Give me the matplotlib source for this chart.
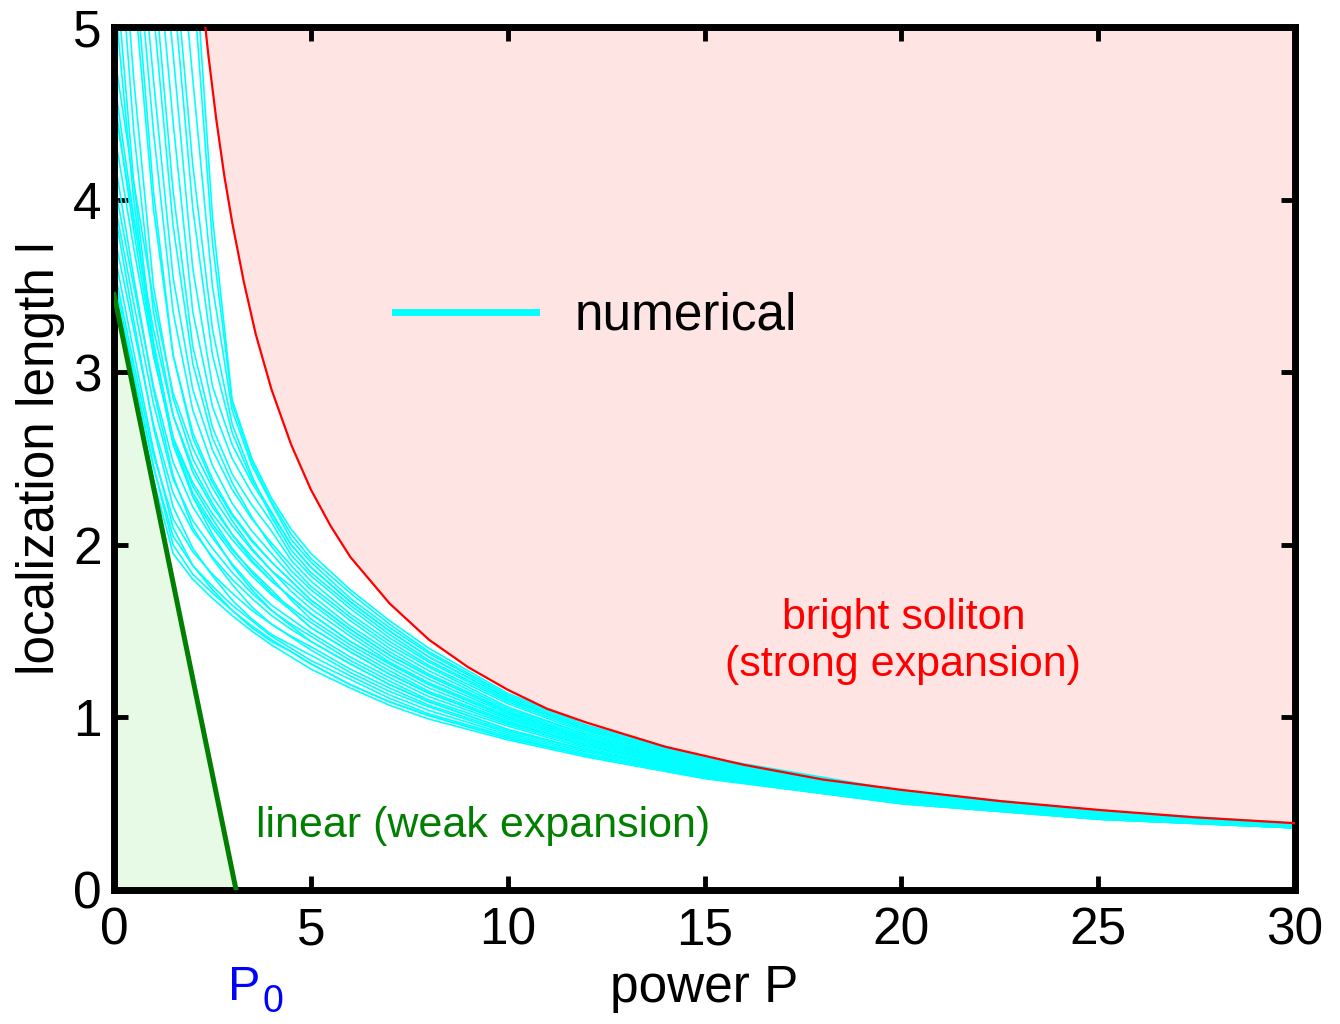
import matplotlib
matplotlib.use("Agg")
import matplotlib.pyplot as plt
from matplotlib.lines import Line2D

plt.rcParams['font.family'] = ['Liberation Sans', 'DejaVu Sans']

# red curve (bright soliton boundary)
p_red = [2.3, 2.4, 2.6, 2.8, 3.0, 3.3, 3.6, 4.0, 4.5, 5, 5.5, 6, 7, 8, 9, 10,
         11, 12, 14, 16, 18, 20, 22.5, 25, 27.5, 30]
l_red = [5.04, 4.83, 4.46, 4.14, 3.87, 3.52, 3.22, 2.90, 2.58, 2.32, 2.11, 1.93,
         1.66, 1.45, 1.29, 1.16, 1.05, 0.97, 0.83, 0.725, 0.64, 0.58, 0.515,
         0.464, 0.42, 0.387]

# green line (linear regime)
p_lin = [0, 3.1]
l_lin = [3.45, 0]

# numerical curves, all sampled on the same power grid
p_grid = [0, 0.5, 1, 1.5, 2, 2.5, 3, 3.5, 4, 4.5, 5, 6, 7, 8, 10, 12, 15, 20, 25, 30]
cyan_curves = [
    [3.45, 2.92, 2.38, 1.95, 1.80, 1.69, 1.59, 1.50, 1.42, 1.35, 1.28, 1.17, 1.07, 0.99, 0.87, 0.77, 0.645, 0.50, 0.41, 0.36],
    [3.50, 2.98, 2.45, 2.05, 1.88, 1.76, 1.65, 1.56, 1.47, 1.40, 1.33, 1.22, 1.11, 1.02, 0.89, 0.78, 0.655, 0.51, 0.41, 0.36],
    [3.55, 3.00, 2.46, 2.00, 1.83, 1.72, 1.62, 1.53, 1.45, 1.38, 1.31, 1.19, 1.09, 1.01, 0.88, 0.78, 0.65, 0.50, 0.41, 0.36],
    [3.60, 3.05, 2.52, 2.15, 1.96, 1.83, 1.72, 1.62, 1.54, 1.465, 1.39, 1.26, 1.15, 1.06, 0.91, 0.80, 0.665, 0.51, 0.42, 0.36],
    [3.70, 3.12, 2.55, 2.10, 1.88, 1.74, 1.62, 1.52, 1.44, 1.38, 1.31, 1.19, 1.09, 1.01, 0.88, 0.78, 0.65, 0.50, 0.41, 0.36],
    [3.80, 3.25, 2.70, 2.30, 2.08, 1.93, 1.80, 1.69, 1.59, 1.51, 1.44, 1.31, 1.19, 1.09, 0.93, 0.81, 0.675, 0.52, 0.42, 0.365],
    [3.95, 3.30, 2.68, 2.22, 1.98, 1.82, 1.68, 1.57, 1.48, 1.42, 1.36, 1.24, 1.13, 1.04, 0.90, 0.79, 0.66, 0.51, 0.42, 0.36],
    [4.00, 3.40, 2.82, 2.38, 2.14, 1.98, 1.84, 1.72, 1.62, 1.53, 1.44, 1.31, 1.19, 1.09, 0.93, 0.81, 0.675, 0.52, 0.42, 0.365],
    [4.10, 3.50, 2.92, 2.48, 2.22, 2.04, 1.89, 1.76, 1.65, 1.57, 1.49, 1.35, 1.23, 1.12, 0.96, 0.83, 0.685, 0.52, 0.43, 0.368],
    [4.25, 3.55, 2.90, 2.40, 2.10, 1.92, 1.77, 1.64, 1.54, 1.47, 1.41, 1.28, 1.17, 1.07, 0.92, 0.81, 0.67, 0.52, 0.42, 0.365],
    [4.40, 3.72, 3.10, 2.62, 2.34, 2.15, 1.98, 1.84, 1.72, 1.635, 1.55, 1.40, 1.27, 1.15, 0.98, 0.84, 0.695, 0.53, 0.43, 0.37],
    [4.55, 3.88, 3.25, 2.75, 2.45, 2.24, 2.06, 1.91, 1.79, 1.695, 1.60, 1.44, 1.31, 1.19, 1.00, 0.86, 0.705, 0.54, 0.43, 0.372],
    [4.60, 3.82, 3.12, 2.58, 2.28, 2.10, 1.95, 1.82, 1.71, 1.62, 1.52, 1.38, 1.25, 1.14, 0.97, 0.84, 0.69, 0.53, 0.43, 0.369],
    [4.70, 3.90, 3.18, 2.62, 2.28, 2.06, 1.88, 1.74, 1.62, 1.54, 1.47, 1.33, 1.21, 1.10, 0.95, 0.82, 0.68, 0.52, 0.42, 0.367],
    [4.85, 4.10, 3.42, 2.88, 2.56, 2.33, 2.14, 1.98, 1.85, 1.76, 1.66, 1.49, 1.34, 1.22, 1.02, 0.87, 0.715, 0.54, 0.44, 0.374],
    [5.20, 4.00, 3.10, 2.62, 2.36, 2.18, 2.03, 1.90, 1.79, 1.695, 1.60, 1.44, 1.31, 1.19, 1.00, 0.86, 0.705, 0.54, 0.43, 0.372],
    [5.45, 4.10, 3.15, 2.60, 2.30, 2.12, 1.97, 1.85, 1.74, 1.62, 1.52, 1.38, 1.25, 1.14, 0.97, 0.84, 0.69, 0.53, 0.43, 0.369],
    [5.90, 4.40, 3.35, 2.75, 2.42, 2.22, 2.06, 1.93, 1.81, 1.68, 1.57, 1.42, 1.29, 1.17, 0.99, 0.85, 0.70, 0.53, 0.43, 0.371],
    [6.20, 4.70, 3.50, 2.85, 2.50, 2.28, 2.11, 1.97, 1.85, 1.73, 1.63, 1.47, 1.32, 1.20, 1.01, 0.87, 0.71, 0.54, 0.44, 0.373],
    [6.60, 5.25, 3.95, 3.10, 2.65, 2.38, 2.18, 2.03, 1.90, 1.79, 1.68, 1.51, 1.36, 1.24, 1.03, 0.88, 0.72, 0.545, 0.44, 0.375],
    [6.90, 5.45, 4.05, 3.10, 2.62, 2.36, 2.17, 2.02, 1.90, 1.79, 1.68, 1.51, 1.36, 1.24, 1.03, 0.88, 0.72, 0.545, 0.44, 0.375],
    [7.00, 5.70, 4.40, 3.35, 2.78, 2.46, 2.24, 2.08, 1.95, 1.82, 1.71, 1.53, 1.38, 1.25, 1.04, 0.89, 0.725, 0.55, 0.44, 0.376],
    [7.20, 5.95, 4.70, 3.55, 2.90, 2.55, 2.32, 2.15, 2.01, 1.88, 1.76, 1.58, 1.42, 1.29, 1.06, 0.90, 0.735, 0.555, 0.45, 0.378],
    [7.40, 6.30, 5.10, 3.85, 3.05, 2.62, 2.36, 2.16, 1.99, 1.85, 1.74, 1.56, 1.40, 1.27, 1.05, 0.90, 0.73, 0.55, 0.44, 0.377],
    [7.60, 6.50, 5.35, 4.05, 3.15, 2.68, 2.41, 2.23, 2.08, 1.91, 1.79, 1.60, 1.44, 1.30, 1.08, 0.91, 0.74, 0.555, 0.45, 0.379],
    [7.80, 6.80, 5.70, 4.45, 3.35, 2.80, 2.50, 2.30, 2.13, 1.94, 1.82, 1.63, 1.46, 1.32, 1.09, 0.92, 0.745, 0.56, 0.45, 0.38],
    [8.00, 7.05, 6.00, 4.85, 3.60, 2.92, 2.58, 2.36, 2.18, 2.00, 1.87, 1.67, 1.50, 1.35, 1.11, 0.93, 0.755, 0.566, 0.454, 0.382],
    [8.20, 7.30, 6.30, 5.25, 3.95, 3.10, 2.65, 2.38, 2.19, 2.00, 1.87, 1.67, 1.50, 1.35, 1.11, 0.93, 0.755, 0.566, 0.454, 0.382],
    [8.30, 7.45, 6.50, 5.50, 4.20, 3.25, 2.70, 2.40, 2.16, 1.97, 1.84, 1.65, 1.48, 1.33, 1.10, 0.93, 0.75, 0.563, 0.45, 0.381],
    [8.60, 7.80, 6.90, 5.95, 4.70, 3.50, 2.78, 2.46, 2.24, 2.03, 1.90, 1.69, 1.52, 1.37, 1.12, 0.94, 0.76, 0.569, 0.456, 0.383],
    [8.80, 8.10, 7.25, 6.30, 5.30, 3.75, 2.82, 2.48, 2.25, 2.06, 1.92, 1.72, 1.54, 1.38, 1.13, 0.95, 0.765, 0.572, 0.458, 0.384],
    [9.00, 8.30, 7.50, 6.60, 5.60, 3.90, 2.84, 2.50, 2.27, 2.09, 1.95, 1.74, 1.56, 1.40, 1.14, 0.955, 0.77, 0.575, 0.46, 0.385],
]

fs = 37
fs_note = 31

fig = plt.figure(figsize=(13.4, 10.24), dpi=100)
ax = fig.add_axes([0.0851, 0.1309, 0.8813, 0.8427])

ax.fill_between(p_red, l_red, 5, color='#ffe4e4', lw=0, zorder=0)
ax.fill_between(p_lin, l_lin, 0, color='#e6fae6', lw=0, zorder=0)

for c in cyan_curves:
    ax.plot(p_grid, c, color='cyan', lw=1.2, zorder=2)

ax.plot(p_red, l_red, color='red', lw=1.6, zorder=3)
ax.plot(p_lin, l_lin, color='#007f00', lw=3.6, zorder=4)

ax.set_xlim(0, 30)
ax.set_ylim(0, 5)
ax.set_xticks([0, 5, 10, 15, 20, 25, 30])
ax.set_yticks([0, 1, 2, 3, 4, 5])
ax.tick_params(direction='in', length=10, width=3.5, labelsize=fs,
               top=True, right=True)
ax.tick_params(axis='x', pad=12)
ax.tick_params(axis='y', pad=9)
for s in ax.spines.values():
    s.set_linewidth(5)

ax.set_xlabel('power P', fontsize=fs, labelpad=6)
ax.set_ylabel('localization length l', fontsize=fs, labelpad=6)

ax.text(20.05, 1.44, 'bright soliton\n(strong expansion)', color='red',
        fontsize=fs_note, ha='center', va='center', linespacing=1.2)
ax.text(9.37, 0.37, 'linear (weak expansion)', color='#007f00',
        fontsize=fs_note, ha='center', va='center')

xt = ax.get_xaxis_transform()
ax.text(2.9, -0.1275, 'P', color='blue', fontsize=35, ha='left',
        va='baseline', transform=xt)
ax.text(3.76, -0.1414, '0', color='blue', fontsize=27, ha='left',
        va='baseline', transform=xt)

h = Line2D([], [], color='cyan', lw=5)
ax.legend([h], ['numerical'], loc='center left', bbox_to_anchor=(0.238, 0.665),
          frameon=False, fontsize=37, handlelength=2.75, handletextpad=0.75,
          borderpad=0, borderaxespad=0)

fig.savefig('out.png', dpi=100)
